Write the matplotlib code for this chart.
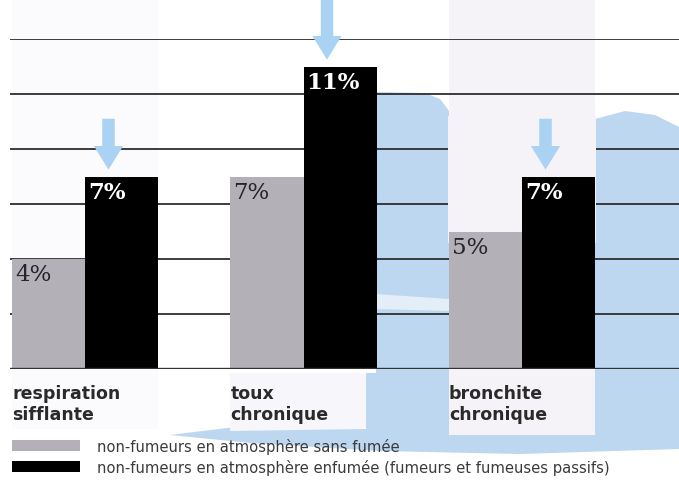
import matplotlib
matplotlib.use("Agg")
import matplotlib.pyplot as plt
from matplotlib.patches import Polygon, Rectangle
from matplotlib import transforms
import numpy as np

# ---- data ----
categories = ["respiration\nsifflante", "toux\nchronique", "bronchite\nchronique"]
smoke_free = [4, 7, 5]        # non-fumeurs en atmosphère sans fumée
smoky = [7, 11, 7]            # non-fumeurs en atmosphère enfumée
legend_labels = ["non-fumeurs en atmosphère sans fumée",
                 "non-fumeurs en atmosphère enfumée (fumeurs et fumeuses passifs)"]
grid_values = [2, 4, 6, 8, 10, 12]

W, H = 679, 481
fig = plt.figure(figsize=(W / 100, H / 100), dpi=100)
fig.patch.set_facecolor("white")

GREY = "#b3b0b7"
BLUE = "#bcd7ef"
PALE = "#f5f3f8"
ARROW = "#a9d2f3"


def P(pts):
    return [(x / W, 1 - y / H) for x, y in pts]


# decorative watercolour background (figure level, behind the axes)
deco = [
    (P([(376, 93), (425, 94), (440, 100), (449, 112), (449, 440), (376, 440)]), BLUE),
    (P([(595, 120), (625, 112), (655, 116), (679, 128), (679, 445), (595, 445)]), BLUE),
    (P([(300, 374), (679, 374), (679, 450), (520, 455), (380, 452), (250, 444),
        (170, 436), (300, 420)]), BLUE),
    (P([(449, 0), (595, 0), (595, 436), (449, 436)]), PALE),
    (P([(230, 374), (366, 374), (366, 430), (230, 432)]), "#f7f6fa"),
    (P([(12, 0), (158, 0), (158, 430), (12, 430)]), "#fbfafc"),
    (P([(376, 295), (449, 300), (449, 312), (376, 310)]), "#e3eef8"),
]
for pts, col in deco:
    fig.patches.append(Polygon(pts, closed=True, facecolor=col, edgecolor="none",
                               transform=fig.transFigure, zorder=-5))

# axes: baseline at y=370px, 12% at y=40px, left at 10px
left, bottom = 10 / W, (H - 370) / H
ax = fig.add_axes([left, bottom, 1 - left, 330 / H])
ax.set_facecolor("none")
spacing = 218.5
w = 73 / spacing
ax.set_xlim(-75 / spacing, 2 + 157 / spacing)
ax.set_ylim(0, 12)
ax.axis("off")

x = np.arange(len(categories))

for g in grid_values:
    ax.axhline(g, color="#2e2e2e", lw=1.3, zorder=1)
# pale band hides middle gridlines behind third group
ax.add_patch(Rectangle((x[2] - w - 0.005, 4.6), 2 * w + 0.01, 4.6, facecolor=PALE,
                       edgecolor="none", zorder=2))
ax.axhline(0, color="#333333", lw=2.4, zorder=4)

b1 = ax.bar(x - w / 2, smoke_free, width=w, color=GREY, zorder=3)
b2 = ax.bar(x + w / 2, smoky, width=w, color="black", zorder=3)

for rect, v in zip(b1, smoke_free):
    ax.annotate(f"{v}%", xy=(rect.get_x(), v), xytext=(2, -3), textcoords="offset points",
                ha="left", va="top", color="#26252c", fontsize=16.5,
                family="DejaVu Serif", zorder=5)
for rect, v in zip(b2, smoky):
    ax.annotate(f"{v}%", xy=(rect.get_x(), v), xytext=(2, -3), textcoords="offset points",
                ha="left", va="top", color="white", fontsize=16.5, fontweight="bold",
                family="DejaVu Serif", zorder=5)

# light-blue arrows pointing to the smoky bars
for rect, v in zip(b2, smoky):
    cx = rect.get_x() + w / 2 - 13 / spacing
    tail = 13.45 if v > 10 else v + 2.1
    ax.annotate("", xy=(cx, v + 0.25), xytext=(cx, tail),
                arrowprops=dict(arrowstyle="simple,head_length=0.85,head_width=1.05,tail_width=0.45",
                                color=ARROW, lw=0, shrinkA=0, shrinkB=0, mutation_scale=20),
                annotation_clip=False, zorder=6)

# category labels
trans = transforms.blended_transform_factory(ax.transData, ax.transAxes)
for xi, lab in zip(x, categories):
    ax.text(xi - w, -0.045, lab, transform=trans, ha="left", va="top",
            fontsize=12.5, fontweight="bold", color="#2a2a2a", linespacing=1.2,
            family="DejaVu Sans", clip_on=False)

# legend
for (ytop, col, lab) in [(441, GREY, legend_labels[0]), (462, "black", legend_labels[1])]:
    fig.patches.append(Rectangle((12 / W, 1 - (ytop + 11) / H), 68 / W, 11 / H,
                                 facecolor=col, edgecolor="none",
                                 transform=fig.transFigure, zorder=2))
    fig.text(97 / W, 1 - (ytop + 6) / H, lab, ha="left", va="center", fontsize=10.6,
             color="#3a3a3a", family="DejaVu Sans")

fig.savefig("out.png", dpi=100)
